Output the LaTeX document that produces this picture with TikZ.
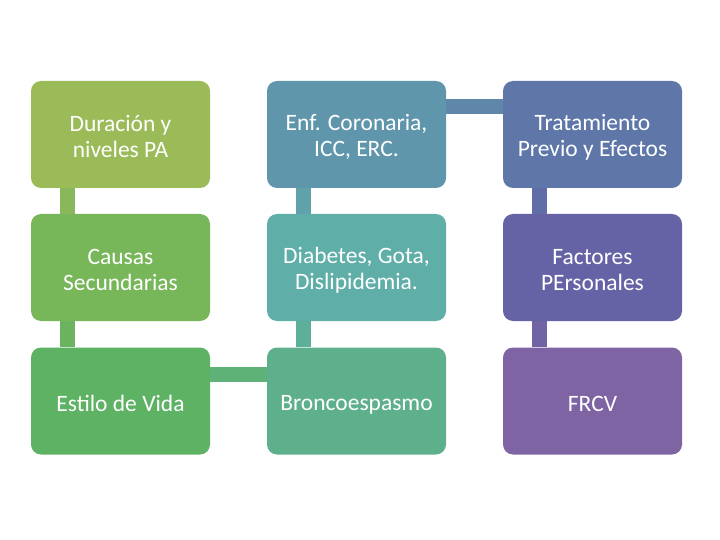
\documentclass[tikz,border=0pt]{standalone}
\usepackage{fontspec}
\setmainfont{Carlito}
\newcommand\mystrut{\rule[-2pt]{0pt}{24pt}}
\definecolor{cA}{HTML}{9BBB59}
\definecolor{cB}{HTML}{5F96AB}
\definecolor{cC}{HTML}{5E77A8}
\definecolor{cD}{HTML}{78B65A}
\definecolor{cE}{HTML}{5FAEA8}
\definecolor{cF}{HTML}{6563A6}
\definecolor{cG}{HTML}{5EB264}
\definecolor{cH}{HTML}{5EB08C}
\definecolor{cI}{HTML}{7F64A3}
\definecolor{kAD}{HTML}{89B85A}
\definecolor{kDG}{HTML}{6BB35E}
\definecolor{kGH}{HTML}{5EB278}
\definecolor{kHE}{HTML}{5EAF9A}
\definecolor{kEB}{HTML}{5FA2AA}
\definecolor{kBC}{HTML}{5E87AA}
\definecolor{kCF}{HTML}{616DA7}
\definecolor{kFI}{HTML}{7263A4}
\tikzset{
  box/.style={draw=none, rounded corners=10pt, minimum width=179pt, minimum height=107pt,
    inner sep=0pt, align=center, text=white, font=\fontsize{23.5}{26}\selectfont},
  bar/.style={line width=15pt}
}
\begin{document}
\begin{tikzpicture}[x=1pt,y=-1pt]
\useasboundingbox (0,0) rectangle (720,540);
\node[box, fill=cA] (a) at (120.5,134.5) {\mystrut Duración y\\\mystrut niveles PA};
\node[box, fill=cB] (b) at (356.5,134.5) {\mystrut Enf. Coronaria,\\\mystrut ICC, ERC.};
\node[box, fill=cC] (c) at (592.5,134.5) {\mystrut Tratamiento\\\mystrut Previo y Efectos};
\node[box, fill=cD] (d) at (120.5,267.5) {\mystrut Causas\\\mystrut Secundarias};
\node[box, fill=cE] (e) at (356.5,267.5) {\mystrut Diabetes, Gota,\\\mystrut Dislipidemia.};
\node[box, fill=cF] (f) at (592.5,267.5) {\mystrut Factores\\\mystrut PErsonales};
\node[box, fill=cG] (g) at (120.5,401) {\mystrut Estilo de Vida};
\node[box, fill=cH] (h) at (356.5,401) {\mystrut Broncoespasmo};
\node[box, fill=cI] (i) at (592.5,401) {\mystrut FRCV};
\draw[bar, kAD] ([xshift=37pt]a.south west) -- ([xshift=37pt]d.north west);
\draw[bar, kDG] ([xshift=37pt]d.south west) -- ([xshift=37pt]g.north west);
\draw[bar, kGH] ([yshift=-27pt]g.north east) -- ([yshift=-27pt]h.north west);
\draw[bar, kHE] ([xshift=37pt]h.north west) -- ([xshift=37pt]e.south west);
\draw[bar, kEB] ([xshift=37pt]e.north west) -- ([xshift=37pt]b.south west);
\draw[bar, kBC] ([yshift=-26pt]b.north east) -- ([yshift=-26pt]c.north west);
\draw[bar, kCF] ([xshift=37pt]c.south west) -- ([xshift=37pt]f.north west);
\draw[bar, kFI] ([xshift=37pt]f.south west) -- ([xshift=37pt]i.north west);
\end{tikzpicture}
\end{document}
